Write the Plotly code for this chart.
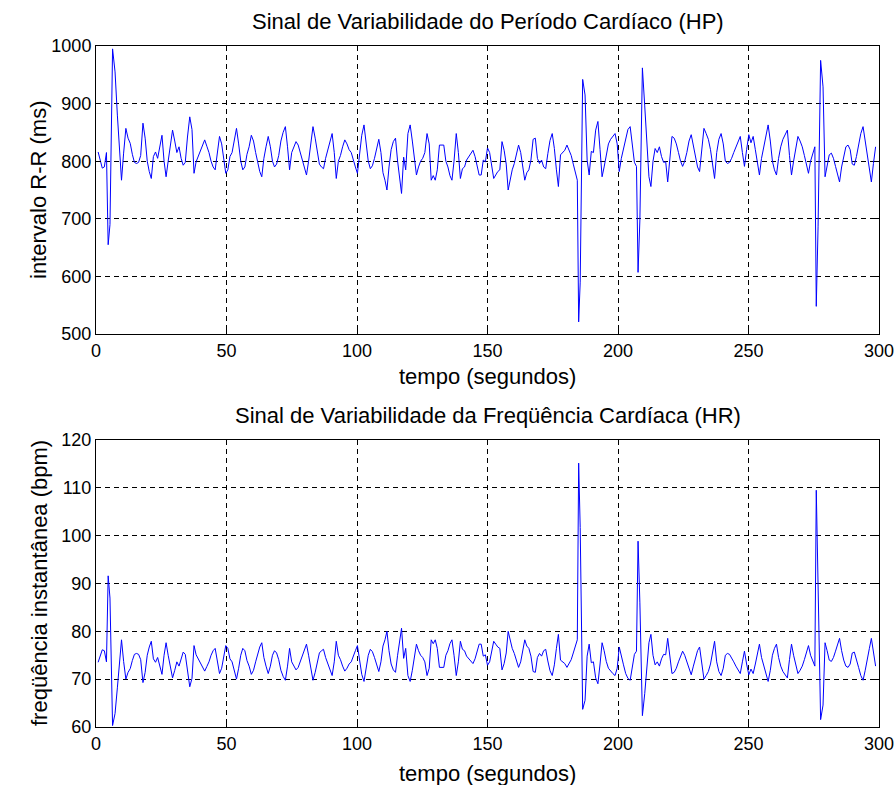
import numpy as np
import plotly.graph_objects as go

# R-R intervals (ms), one value per beat, grouped by stretch of the recording
rr_0_37 = [816, 799, 788, 790, 815, 655, 690, 995, 955, 880,
           820, 767, 814, 857, 840, 831, 812, 798, 796, 798, 810, 866, 840, 800, 782, 770,
           808, 816, 805, 822, 845, 800, 773, 800, 825, 854, 835, 815, 825, 805, 793, 798,
           842, 877, 855, 779]
rr_37_74 = [799, 808, 818, 825, 837, 826, 815, 800, 790, 785, 815, 843, 830, 800, 779,
            785, 808, 815, 835, 857, 830, 800, 785, 790, 812, 825, 845, 835, 815, 798,
            782, 773, 805, 825, 843, 825, 800, 790, 795, 810, 835, 850, 860, 825, 785]
rr_74_111 = [815, 825, 834, 828, 815, 800, 790, 776, 800, 830, 860, 840, 815, 795, 790,
             787, 805, 820, 835, 848, 815, 770, 800, 810, 825, 837, 830, 820, 815, 800,
             790, 779, 815, 845, 863, 830, 800, 787, 792, 805, 820, 838, 815, 780, 767, 750]
rr_111_152 = [790, 820, 834, 840, 800, 767, 744, 807, 785, 848, 863, 835, 800, 776, 790,
              800, 805, 815, 848, 830, 767, 775, 767, 785, 828, 828, 828, 800, 790, 775,
              767, 800, 848, 815, 770, 787, 790, 802, 808, 814, 819, 808, 790, 776, 776,
              802, 799, 823, 815, 790, 770]
rr_152_185 = [776, 782, 785, 834, 819, 795, 750, 767, 785, 796, 810, 828, 815, 790, 767,
              780, 785, 802, 838, 840, 805, 796, 802, 790, 787, 813, 836, 848, 822, 785,
              756, 811, 815, 819, 828, 820, 810, 795, 779, 767, 521, 590, 942, 915]
rr_185_230 = [802, 776, 817, 815, 854, 869, 820, 773, 790, 814, 830, 838, 843, 848, 830,
              782, 805, 822, 843, 855, 860, 830, 798, 791, 607, 698, 962, 896, 837, 773,
              756, 800, 822, 815, 825, 808, 798, 799, 764, 800, 843, 840, 830, 815, 800,
              791, 800, 815, 835, 846, 825, 805, 790]
rr_230_275 = [782, 815, 857, 848, 838, 820, 795, 770, 815, 838, 848, 830, 800, 796, 798,
              805, 815, 825, 835, 843, 815, 791, 820, 846, 832, 843, 820, 798, 776, 805,
              825, 843, 863, 835, 800, 785, 776, 805, 825, 838, 845, 854, 810, 776, 800,
              820, 843, 835, 825, 810, 796, 779, 800, 815, 825]
rr_275_300 = [548, 686, 975, 929, 773, 790, 811, 814, 805, 791, 775, 764, 790, 811, 825,
              828, 820, 795, 793, 808, 828, 848, 860, 835, 805, 785, 764, 796, 825]

x_ticks = [0, 50, 100, 150, 200, 250, 300]
hp_ticks = [500, 600, 700, 800, 900, 1000]
hr_ticks = [60, 70, 80, 90, 100, 110, 120]

title_hp = "Sinal de Variabilidade do Período Cardíaco (HP)"
title_hr = "Sinal de Variabilidade da Freqüência Cardíaca (HR)"
xlabel = "tempo (segundos)"
ylabel_hp = "intervalo R-R (ms)"
ylabel_hr = "freqüência instantânea (bpm)"

rr_ms = np.array(rr_0_37 + rr_37_74 + rr_74_111 + rr_111_152 + rr_152_185
                 + rr_185_230 + rr_230_275 + rr_275_300, dtype=float)
beat_time_s = np.cumsum(rr_ms) / 1000.0      # time of each beat
hr_bpm = 60000.0 / rr_ms                      # instantaneous heart rate

FONT = "Liberation Sans, Arial, Helvetica, sans-serif"
W, H = 896, 785
ML, MR, MT, MB = 96, 17, 46, 58
plot_h = H - MT - MB

def py(px):
    """pixel row -> paper y"""
    return (H - MB - px) / plot_h

def px_x(px):
    """pixel column -> paper x"""
    return (px - ML) / (W - ML - MR)

fig = go.Figure()
line_style = dict(color="#0000ff", width=1)
fig.add_trace(go.Scatter(x=beat_time_s, y=rr_ms, mode="lines", line=line_style,
                         xaxis="x", yaxis="y", showlegend=False, hoverinfo="skip"))
fig.add_trace(go.Scatter(x=beat_time_s, y=hr_bpm, mode="lines", line=line_style,
                         xaxis="x2", yaxis="y2", showlegend=False, hoverinfo="skip"))

axis_style = dict(
    showline=True, linecolor="black", linewidth=1, mirror="ticks",
    ticks="inside", ticklen=5, tickcolor="black", tickwidth=1,
    showgrid=True, gridcolor="black", gridwidth=1, griddash="5px,4px",
    zeroline=False, automargin=False,
    tickfont=dict(family=FONT, size=18, color="black"),
)

top_dom = [py(334), 1.0]
bot_dom = [0.0, py(440)]

fig.update_layout(
    width=W, height=H,
    margin=dict(l=ML, r=MR, t=MT, b=MB, autoexpand=False),
    paper_bgcolor="white", plot_bgcolor="white",
    font=dict(family=FONT, color="black"),
    xaxis=dict(axis_style, range=[0, 300], tickvals=x_ticks, anchor="y", domain=[0, 1]),
    yaxis=dict(axis_style, range=[500, 1000], tickvals=hp_ticks, anchor="x", domain=top_dom),
    xaxis2=dict(axis_style, range=[0, 300], tickvals=x_ticks, anchor="y2", domain=[0, 1]),
    yaxis2=dict(axis_style, range=[60, 120], tickvals=hr_ticks, anchor="x2", domain=bot_dom),
)

ann = dict(xref="paper", yref="paper", showarrow=False,
           font=dict(family=FONT, size=22, color="black"))
fig.add_annotation(ann, text=title_hp, x=0.5, y=py(22), xanchor="center", yanchor="middle")
fig.add_annotation(ann, text=title_hr, x=0.5, y=py(415), xanchor="center", yanchor="middle")
fig.add_annotation(ann, text=xlabel, x=0.5, y=py(376), xanchor="center", yanchor="middle")
fig.add_annotation(ann, text=xlabel, x=0.5, y=py(773), xanchor="center", yanchor="middle")
fig.add_annotation(ann, text=ylabel_hp, x=px_x(39), y=py(190), xanchor="center",
                   yanchor="middle", textangle=-90)
fig.add_annotation(ann, text=ylabel_hr, x=px_x(39), y=py(583), xanchor="center",
                   yanchor="middle", textangle=-90)

fig.write_html("out.html")
